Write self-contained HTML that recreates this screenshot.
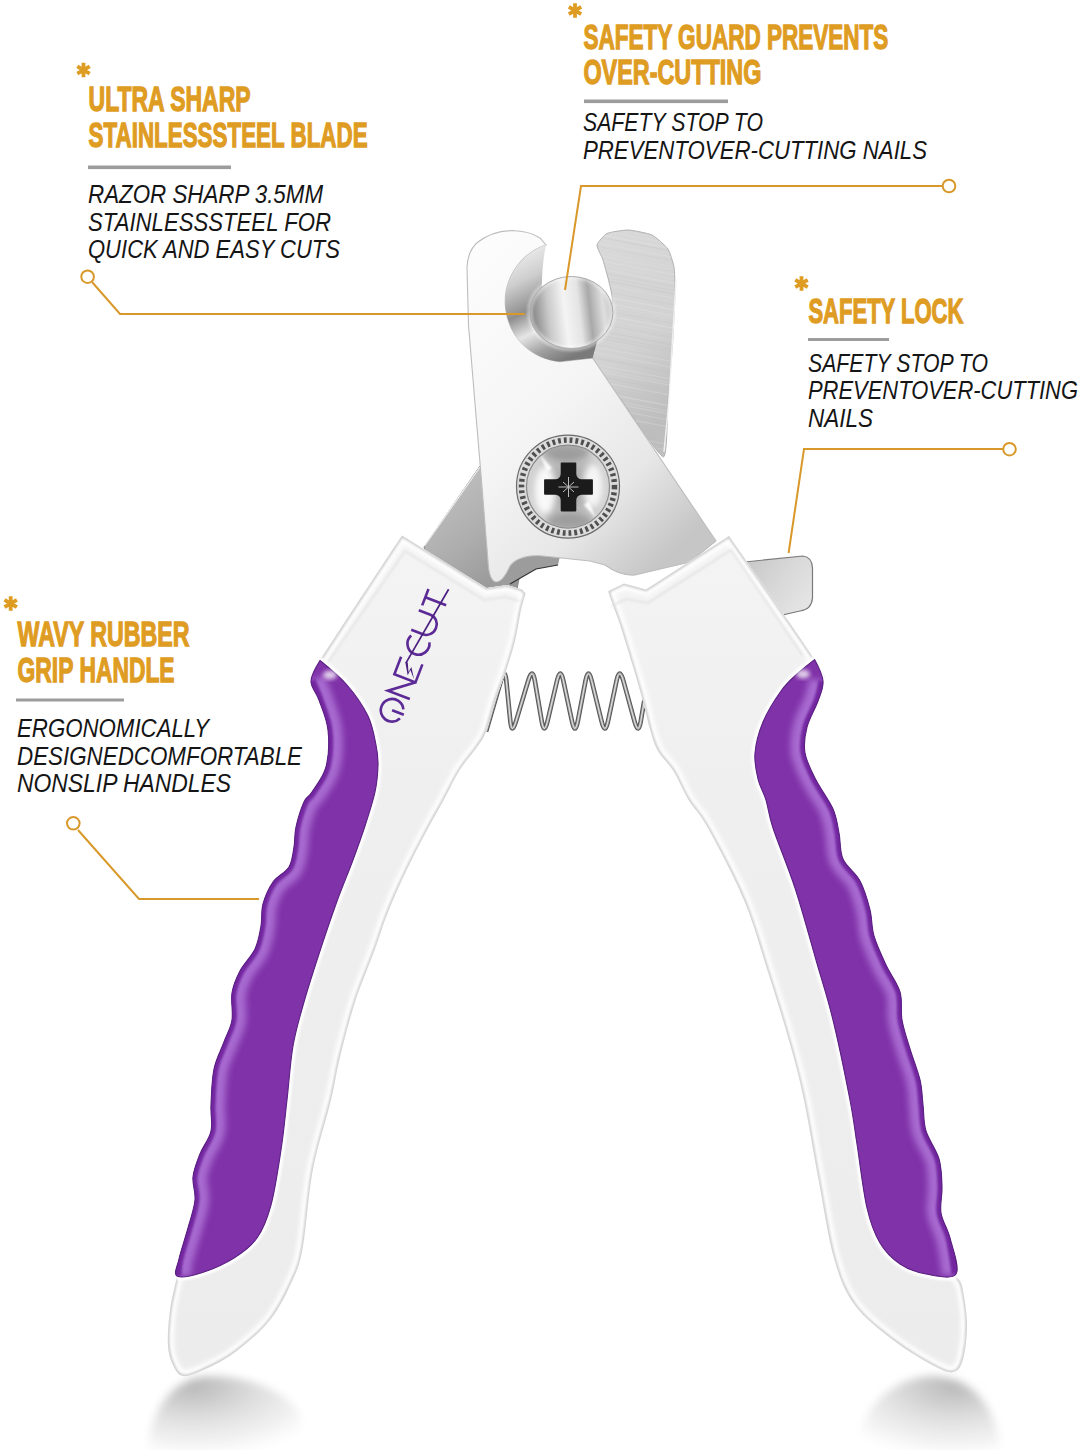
<!DOCTYPE html>
<html><head><meta charset="utf-8"><style>
html,body{margin:0;padding:0;background:#fff;width:1081px;height:1450px;overflow:hidden}
svg{display:block;font-family:"Liberation Sans",sans-serif}
</style></head><body>
<svg width="1081" height="1450" viewBox="0 0 1081 1450">
<defs>
<filter id="blur3" x="-50%" y="-50%" width="200%" height="200%"><feGaussianBlur stdDeviation="4"/></filter>
<filter id="b2" x="-20%" y="-20%" width="140%" height="140%"><feGaussianBlur stdDeviation="2.2"/></filter>
<filter id="b3p" x="-20%" y="-20%" width="140%" height="140%"><feGaussianBlur stdDeviation="3"/></filter>
<filter id="b1" x="-20%" y="-20%" width="140%" height="140%"><feGaussianBlur stdDeviation="1"/></filter>
<filter id="b4" x="-20%" y="-20%" width="140%" height="140%"><feGaussianBlur stdDeviation="3"/></filter>
<radialGradient id="shadL" cx="0.3" cy="0.12" r="0.95"><stop offset="0" stop-color="#b9b9b9"/><stop offset="0.45" stop-color="#dedede"/><stop offset="1" stop-color="#ffffff"/></radialGradient>
<radialGradient id="shadR" cx="0.68" cy="0.12" r="0.95"><stop offset="0" stop-color="#b9b9b9"/><stop offset="0.45" stop-color="#dedede"/><stop offset="1" stop-color="#ffffff"/></radialGradient>
<linearGradient id="shad" x1="0" y1="0" x2="0" y2="1"><stop offset="0" stop-color="#c4c4c4"/><stop offset="0.55" stop-color="#e6e6e6"/><stop offset="1" stop-color="#fbfbfb"/></linearGradient>
<linearGradient id="steelR" x1="0" y1="0" x2="0.3" y2="1"><stop offset="0" stop-color="#dadada"/><stop offset="0.6" stop-color="#d2d2d2"/><stop offset="1" stop-color="#bdbdbd"/></linearGradient>
<linearGradient id="steelL" x1="0" y1="0" x2="0.6" y2="1"><stop offset="0" stop-color="#c6c6c6"/><stop offset="0.6" stop-color="#adadad"/><stop offset="1" stop-color="#959595"/></linearGradient>
<linearGradient id="front" x1="0" y1="0" x2="0.7" y2="1"><stop offset="0" stop-color="#fdfdfd"/><stop offset="0.5" stop-color="#f5f5f5"/><stop offset="0.78" stop-color="#e7e7e7"/><stop offset="1" stop-color="#c6c6c6"/></linearGradient>
<linearGradient id="lens" x1="0" y1="0.1" x2="1" y2="0"><stop offset="0" stop-color="#8a8a8a"/><stop offset="0.18" stop-color="#c9c9c9"/><stop offset="0.38" stop-color="#f4f4f4"/><stop offset="0.55" stop-color="#e4e4e4"/><stop offset="0.68" stop-color="#a9a9a9"/><stop offset="0.84" stop-color="#dedede"/><stop offset="1" stop-color="#bcbcbc"/></linearGradient>
<linearGradient id="ccut" x1="0.2" y1="0" x2="0.6" y2="1"><stop offset="0" stop-color="#f0f0f0"/><stop offset="0.25" stop-color="#cfcfcf"/><stop offset="0.5" stop-color="#8e8e8e"/><stop offset="0.68" stop-color="#e6e6e6"/><stop offset="0.85" stop-color="#a0a0a0"/><stop offset="1" stop-color="#7a7a7a"/></linearGradient>
<radialGradient id="screw" cx="0.5" cy="0.5" r="0.55"><stop offset="0" stop-color="#9a9a9a"/><stop offset="0.6" stop-color="#bdbdbd"/><stop offset="0.9" stop-color="#d5d5d5"/><stop offset="1" stop-color="#a0a0a0"/></radialGradient>
<linearGradient id="tab" x1="0" y1="0" x2="1" y2="0.6"><stop offset="0" stop-color="#c2c2c2"/><stop offset="0.6" stop-color="#d8d8d8"/><stop offset="1" stop-color="#e4e4e4"/></linearGradient>
<linearGradient id="hl" x1="0" y1="0" x2="0" y2="1"><stop offset="0" stop-color="#f4f4f4"/><stop offset="0.3" stop-color="#efefef"/><stop offset="1" stop-color="#ececec"/></linearGradient>
<clipPath id="clipLP"><path d="M177.0,1276.0 C173.3,1273.7 177.2,1267.0 179.0,1259.0 C180.8,1251.0 185.3,1237.8 188.0,1228.0 C190.7,1218.2 194.2,1208.5 195.0,1200.0 C195.8,1191.5 192.2,1184.7 193.0,1177.0 C193.8,1169.3 197.0,1161.7 200.0,1154.0 C203.0,1146.3 209.2,1139.2 211.0,1131.0 C212.8,1122.8 210.5,1115.3 211.0,1105.0 C211.5,1094.7 211.8,1079.5 214.0,1069.0 C216.2,1058.5 221.0,1050.2 224.0,1042.0 C227.0,1033.8 230.7,1028.2 232.0,1020.0 C233.3,1011.8 230.7,1001.2 232.0,993.0 C233.3,984.8 236.2,978.3 240.0,971.0 C243.8,963.7 251.5,956.5 255.0,949.0 C258.5,941.5 259.7,933.5 261.0,926.0 C262.3,918.5 261.0,911.3 263.0,904.0 C265.0,896.7 268.7,888.2 273.0,882.0 C277.3,875.8 285.5,872.8 289.0,867.0 C292.5,861.2 292.8,853.7 294.0,847.0 C295.2,840.3 294.3,834.5 296.0,827.0 C297.7,819.5 301.3,807.8 304.0,802.0 C306.7,796.2 308.3,797.8 312.0,792.0 C315.7,786.2 323.3,777.3 326.0,767.0 C328.7,756.7 329.2,741.2 328.0,730.0 C326.8,718.8 321.8,708.2 319.0,700.0 C316.2,691.8 310.8,687.6 311.0,681.0 C311.2,674.4 320.0,660.5 320.0,660.5 C320.0,660.5 339.0,675.8 347.0,685.0 C355.0,694.2 363.2,706.0 368.0,716.0 C372.8,726.0 374.3,736.8 376.0,745.0 C377.7,753.2 378.2,757.2 378.0,765.0 C377.8,772.8 377.2,781.8 375.0,792.0 C372.8,802.2 368.7,814.7 365.0,826.0 C361.3,837.3 357.8,847.0 353.0,860.0 C348.2,873.0 341.8,887.8 336.0,904.0 C330.2,920.2 323.3,940.7 318.0,957.0 C312.7,973.3 308.2,987.2 304.0,1002.0 C299.8,1016.8 295.8,1029.7 293.0,1046.0 C290.2,1062.3 289.0,1082.7 287.0,1100.0 C285.0,1117.3 283.7,1132.5 281.0,1150.0 C278.3,1167.5 275.0,1190.3 271.0,1205.0 C267.0,1219.7 263.2,1229.2 257.0,1238.0 C250.8,1246.8 243.3,1252.2 234.0,1258.0 C224.7,1263.8 210.5,1270.0 201.0,1273.0 C191.5,1276.0 180.7,1278.3 177.0,1276.0Z"/></clipPath>
<clipPath id="clipRP"><path d="M814.6,659.6 C814.6,659.6 822.4,674.1 823.0,681.0 C823.6,687.9 820.7,693.3 818.0,701.0 C815.3,708.7 809.2,718.3 807.0,727.0 C804.8,735.7 803.5,744.2 805.0,753.0 C806.5,761.8 811.3,770.7 816.0,780.0 C820.7,789.3 829.2,800.2 833.0,809.0 C836.8,817.8 837.3,824.7 839.0,833.0 C840.7,841.3 839.5,851.0 843.0,859.0 C846.5,867.0 855.5,872.5 860.0,881.0 C864.5,889.5 867.7,900.8 870.0,910.0 C872.3,919.2 871.3,926.8 874.0,936.0 C876.7,945.2 881.7,955.7 886.0,965.0 C890.3,974.3 897.3,982.8 900.0,992.0 C902.7,1001.2 900.3,1010.5 902.0,1020.0 C903.7,1029.5 907.0,1039.0 910.0,1049.0 C913.0,1059.0 917.8,1070.7 920.0,1080.0 C922.2,1089.3 922.0,1096.5 923.0,1105.0 C924.0,1113.5 923.3,1122.0 926.0,1131.0 C928.7,1140.0 936.3,1149.7 939.0,1159.0 C941.7,1168.3 941.7,1178.0 942.0,1187.0 C942.3,1196.0 939.7,1204.5 941.0,1213.0 C942.3,1221.5 947.5,1227.8 950.0,1238.0 C952.5,1248.2 960.0,1268.0 956.0,1274.0 C952.0,1280.0 935.3,1275.7 926.0,1274.0 C916.7,1272.3 907.7,1269.2 900.0,1264.0 C892.3,1258.8 885.5,1252.3 880.0,1243.0 C874.5,1233.7 870.8,1224.5 867.0,1208.0 C863.2,1191.5 859.8,1162.0 857.0,1144.0 C854.2,1126.0 854.0,1120.7 850.0,1100.0 C846.0,1079.3 838.7,1043.3 833.0,1020.0 C827.3,996.7 822.3,982.0 816.0,960.0 C809.7,938.0 802.2,910.0 795.0,888.0 C787.8,866.0 777.8,842.7 773.0,828.0 C768.2,813.3 768.5,808.2 766.0,800.0 C763.5,791.8 759.8,786.8 758.0,779.0 C756.2,771.2 754.2,762.5 755.0,753.0 C755.8,743.5 758.7,732.3 763.0,722.0 C767.3,711.7 775.3,699.0 781.0,691.0 C786.7,683.0 791.4,679.2 797.0,674.0 C802.6,668.8 814.6,659.6 814.6,659.6Z"/></clipPath>
<clipPath id="clipLH"><path d="M402.0,535.5 L486.6,588.0 L507.0,585.0 L522.0,589.6 L525.6,593.5 C525.6,593.5 522.8,602.1 521.0,610.0 C519.2,617.9 517.5,630.8 515.0,641.0 C512.5,651.2 509.3,660.9 506.0,671.0 C502.7,681.1 498.3,691.3 495.0,701.4 C491.7,711.5 489.0,724.1 486.0,731.7 C483.0,739.3 481.3,740.7 477.0,747.0 C472.7,753.3 465.6,760.8 460.0,769.6 C454.4,778.4 449.4,789.6 443.7,800.0 C438.0,810.4 431.6,821.5 426.0,832.0 C420.4,842.5 415.0,852.8 410.0,863.0 C405.0,873.2 400.2,883.5 396.0,893.0 C391.8,902.5 388.5,910.7 385.0,920.0 C381.5,929.3 380.0,935.3 375.0,949.0 C370.0,962.7 360.8,984.0 355.0,1002.0 C349.2,1020.0 344.0,1040.7 340.0,1057.0 C336.0,1073.3 335.5,1081.3 331.0,1100.0 C326.5,1118.7 317.7,1144.7 313.0,1169.0 C308.3,1193.3 306.3,1227.7 303.0,1246.0 C299.7,1264.3 298.5,1266.7 293.0,1279.0 C287.5,1291.3 279.8,1307.7 270.0,1320.0 C260.2,1332.3 245.5,1344.5 234.0,1353.0 C222.5,1361.5 209.5,1367.2 201.0,1371.0 C192.5,1374.8 187.5,1376.7 183.0,1376.0 C178.5,1375.3 176.5,1372.0 174.0,1367.0 C171.5,1362.0 168.7,1355.5 168.0,1346.0 C167.3,1336.5 168.5,1321.7 170.0,1310.0 C171.5,1298.3 175.5,1284.5 177.0,1276.0 C178.5,1267.5 177.2,1267.0 179.0,1259.0 C180.8,1251.0 185.3,1237.8 188.0,1228.0 C190.7,1218.2 194.2,1208.5 195.0,1200.0 C195.8,1191.5 192.2,1184.7 193.0,1177.0 C193.8,1169.3 197.0,1161.7 200.0,1154.0 C203.0,1146.3 209.2,1139.2 211.0,1131.0 C212.8,1122.8 210.5,1115.3 211.0,1105.0 C211.5,1094.7 211.8,1079.5 214.0,1069.0 C216.2,1058.5 221.0,1050.2 224.0,1042.0 C227.0,1033.8 230.7,1028.2 232.0,1020.0 C233.3,1011.8 230.7,1001.2 232.0,993.0 C233.3,984.8 236.2,978.3 240.0,971.0 C243.8,963.7 251.5,956.5 255.0,949.0 C258.5,941.5 259.7,933.5 261.0,926.0 C262.3,918.5 261.0,911.3 263.0,904.0 C265.0,896.7 268.7,888.2 273.0,882.0 C277.3,875.8 285.5,872.8 289.0,867.0 C292.5,861.2 292.8,853.7 294.0,847.0 C295.2,840.3 294.3,834.5 296.0,827.0 C297.7,819.5 301.3,807.8 304.0,802.0 C306.7,796.2 308.3,797.8 312.0,792.0 C315.7,786.2 323.3,777.3 326.0,767.0 C328.7,756.7 329.2,741.2 328.0,730.0 C326.8,718.8 321.8,708.2 319.0,700.0 C316.2,691.8 310.8,687.6 311.0,681.0 C311.2,674.4 304.8,684.8 320.0,660.5 C335.2,636.2 402.0,535.5 402.0,535.5Z"/></clipPath>
<clipPath id="clipRH"><path d="M608.5,591.0 L624.0,583.5 L646.0,589.6 L729.0,536.0 C729.0,536.0 798.9,635.4 814.6,659.6 C830.3,683.8 822.4,674.1 823.0,681.0 C823.6,687.9 820.7,693.3 818.0,701.0 C815.3,708.7 809.2,718.3 807.0,727.0 C804.8,735.7 803.5,744.2 805.0,753.0 C806.5,761.8 811.3,770.7 816.0,780.0 C820.7,789.3 829.2,800.2 833.0,809.0 C836.8,817.8 837.3,824.7 839.0,833.0 C840.7,841.3 839.5,851.0 843.0,859.0 C846.5,867.0 855.5,872.5 860.0,881.0 C864.5,889.5 867.7,900.8 870.0,910.0 C872.3,919.2 871.3,926.8 874.0,936.0 C876.7,945.2 881.7,955.7 886.0,965.0 C890.3,974.3 897.3,982.8 900.0,992.0 C902.7,1001.2 900.3,1010.5 902.0,1020.0 C903.7,1029.5 907.0,1039.0 910.0,1049.0 C913.0,1059.0 917.8,1070.7 920.0,1080.0 C922.2,1089.3 922.0,1096.5 923.0,1105.0 C924.0,1113.5 923.3,1122.0 926.0,1131.0 C928.7,1140.0 936.3,1149.7 939.0,1159.0 C941.7,1168.3 941.7,1178.0 942.0,1187.0 C942.3,1196.0 939.7,1204.5 941.0,1213.0 C942.3,1221.5 947.5,1227.8 950.0,1238.0 C952.5,1248.2 954.0,1266.0 956.0,1274.0 C958.0,1282.0 960.2,1278.0 962.0,1286.0 C963.8,1294.0 966.7,1310.5 967.0,1322.0 C967.3,1333.5 965.8,1346.8 964.0,1355.0 C962.2,1363.2 960.3,1368.8 956.0,1371.0 C951.7,1373.2 948.5,1373.2 938.0,1368.0 C927.5,1362.8 907.0,1350.7 893.0,1340.0 C879.0,1329.3 863.8,1317.7 854.0,1304.0 C844.2,1290.3 839.8,1278.3 834.0,1258.0 C828.2,1237.7 824.0,1208.3 819.0,1182.0 C814.0,1155.7 808.8,1123.0 804.0,1100.0 C799.2,1077.0 796.0,1065.3 790.0,1044.0 C784.0,1022.7 775.7,996.0 768.0,972.0 C760.3,948.0 754.0,924.0 744.0,900.0 C734.0,876.0 717.2,844.7 708.0,828.0 C698.8,811.3 694.4,809.5 688.6,800.0 C682.8,790.5 678.5,779.1 673.4,771.0 C668.3,762.9 662.1,757.9 658.3,751.4 C654.5,744.9 653.2,740.0 650.7,731.7 C648.2,723.4 646.0,712.5 643.0,701.4 C640.0,690.3 636.3,677.6 632.5,665.0 C628.7,652.4 624.0,636.8 620.3,625.5 C616.5,614.2 612.0,602.8 610.0,597.0 C608.0,591.2 608.5,591.0 608.5,591.0Z"/></clipPath>
</defs>
<path d="M148,1452 C150,1410 172,1377 210,1376 C250,1376 288,1392 300,1415 L300,1452Z" fill="url(#shadL)" filter="url(#blur3)"/>
<path d="M856,1452 C860,1408 893,1376 933,1376 C972,1377 996,1405 1001,1452Z" fill="url(#shadR)" filter="url(#blur3)"/>
<path d="M597.0,245.0 C597.3,242.8 604.4,234.8 607.0,233.5 C609.6,232.2 624.2,229.9 628.0,230.0 C631.8,230.1 648.7,233.4 652.0,235.0 C655.3,236.6 666.2,246.3 668.0,249.0 C669.8,251.7 673.4,263.4 674.0,267.0 C674.6,270.6 675.1,285.4 675.0,292.0 C674.9,298.6 673.0,337.1 672.4,346.0 C671.8,354.9 668.8,389.8 668.0,399.0 C667.2,408.2 667.4,457.1 663.4,457.0 C659.4,456.9 625.9,406.2 620.0,398.0 C614.1,389.8 593.3,365.8 592.6,358.0 C591.9,350.2 610.6,310.3 612.0,304.0 C613.4,297.7 609.8,285.7 609.0,282.0 C608.2,278.3 604.0,263.1 603.0,260.0 C602.0,256.9 596.7,247.2 597.0,245.0Z" fill="url(#steelR)" stroke="#b0b0b0" stroke-width="1"/>
<clipPath id="clipBB"><path d="M597.0,245.0 C597.3,242.8 604.4,234.8 607.0,233.5 C609.6,232.2 624.2,229.9 628.0,230.0 C631.8,230.1 648.7,233.4 652.0,235.0 C655.3,236.6 666.2,246.3 668.0,249.0 C669.8,251.7 673.4,263.4 674.0,267.0 C674.6,270.6 675.1,285.4 675.0,292.0 C674.9,298.6 673.0,337.1 672.4,346.0 C671.8,354.9 668.8,389.8 668.0,399.0 C667.2,408.2 667.4,457.1 663.4,457.0 C659.4,456.9 625.9,406.2 620.0,398.0 C614.1,389.8 593.3,365.8 592.6,358.0 C591.9,350.2 610.6,310.3 612.0,304.0 C613.4,297.7 609.8,285.7 609.0,282.0 C608.2,278.3 604.0,263.1 603.0,260.0 C602.0,256.9 596.7,247.2 597.0,245.0Z"/></clipPath><g clip-path="url(#clipBB)"><path d="M585,214.3 L690,234.3" stroke="#c0c0c0" stroke-width="1.0" opacity="0.3"/><path d="M585,217.4 L690,237.4" stroke="#e8e8e8" stroke-width="1.0" opacity="0.3"/><path d="M585,221.6 L690,241.6" stroke="#c0c0c0" stroke-width="0.7" opacity="0.3"/><path d="M585,227.3 L690,247.3" stroke="#e8e8e8" stroke-width="0.9" opacity="0.3"/><path d="M585,232.0 L690,252.0" stroke="#e8e8e8" stroke-width="1.3" opacity="0.3"/><path d="M585,234.5 L690,254.5" stroke="#c0c0c0" stroke-width="1.1" opacity="0.3"/><path d="M585,240.5 L690,260.5" stroke="#e8e8e8" stroke-width="1.1" opacity="0.3"/><path d="M585,244.0 L690,264.0" stroke="#c0c0c0" stroke-width="0.7" opacity="0.3"/><path d="M585,250.0 L690,270.0" stroke="#e2e2e2" stroke-width="1.0" opacity="0.3"/><path d="M585,253.0 L690,273.0" stroke="#e2e2e2" stroke-width="1.1" opacity="0.3"/><path d="M585,257.7 L690,277.7" stroke="#e8e8e8" stroke-width="1.1" opacity="0.3"/><path d="M585,261.8 L690,281.8" stroke="#e2e2e2" stroke-width="0.8" opacity="0.3"/><path d="M585,266.2 L690,286.2" stroke="#e8e8e8" stroke-width="1.1" opacity="0.3"/><path d="M585,269.6 L690,289.6" stroke="#c6c6c6" stroke-width="1.2" opacity="0.3"/><path d="M585,273.7 L690,293.7" stroke="#c6c6c6" stroke-width="1.0" opacity="0.3"/><path d="M585,277.0 L690,297.0" stroke="#c0c0c0" stroke-width="1.2" opacity="0.3"/><path d="M585,281.2 L690,301.2" stroke="#e2e2e2" stroke-width="1.1" opacity="0.3"/><path d="M585,287.9 L690,307.9" stroke="#c6c6c6" stroke-width="0.9" opacity="0.3"/><path d="M585,292.5 L690,312.5" stroke="#e8e8e8" stroke-width="1.1" opacity="0.3"/><path d="M585,293.5 L690,313.5" stroke="#e2e2e2" stroke-width="0.8" opacity="0.3"/><path d="M585,299.0 L690,319.0" stroke="#e8e8e8" stroke-width="1.4" opacity="0.3"/><path d="M585,301.5 L690,321.5" stroke="#e2e2e2" stroke-width="0.9" opacity="0.3"/><path d="M585,306.8 L690,326.8" stroke="#c6c6c6" stroke-width="1.1" opacity="0.3"/><path d="M585,311.4 L690,331.4" stroke="#e8e8e8" stroke-width="1.4" opacity="0.3"/><path d="M585,315.7 L690,335.7" stroke="#e8e8e8" stroke-width="0.7" opacity="0.3"/><path d="M585,320.8 L690,340.8" stroke="#c6c6c6" stroke-width="0.9" opacity="0.3"/><path d="M585,323.7 L690,343.7" stroke="#e2e2e2" stroke-width="0.7" opacity="0.3"/><path d="M585,328.2 L690,348.2" stroke="#c0c0c0" stroke-width="1.1" opacity="0.3"/><path d="M585,332.6 L690,352.6" stroke="#c0c0c0" stroke-width="1.2" opacity="0.3"/><path d="M585,335.3 L690,355.3" stroke="#c0c0c0" stroke-width="1.0" opacity="0.3"/><path d="M585,342.7 L690,362.7" stroke="#c6c6c6" stroke-width="0.8" opacity="0.3"/><path d="M585,345.0 L690,365.0" stroke="#e2e2e2" stroke-width="1.3" opacity="0.3"/><path d="M585,350.7 L690,370.7" stroke="#e2e2e2" stroke-width="1.2" opacity="0.3"/><path d="M585,355.5 L690,375.5" stroke="#c6c6c6" stroke-width="1.4" opacity="0.3"/><path d="M585,356.4 L690,376.4" stroke="#c0c0c0" stroke-width="0.8" opacity="0.3"/><path d="M585,362.6 L690,382.6" stroke="#e8e8e8" stroke-width="1.0" opacity="0.3"/><path d="M585,366.6 L690,386.6" stroke="#e2e2e2" stroke-width="0.9" opacity="0.3"/><path d="M585,369.0 L690,389.0" stroke="#e2e2e2" stroke-width="1.1" opacity="0.3"/><path d="M585,373.9 L690,393.9" stroke="#c0c0c0" stroke-width="1.2" opacity="0.3"/><path d="M585,378.9 L690,398.9" stroke="#e8e8e8" stroke-width="1.0" opacity="0.3"/><path d="M585,384.5 L690,404.5" stroke="#c6c6c6" stroke-width="1.0" opacity="0.3"/><path d="M585,386.8 L690,406.8" stroke="#c6c6c6" stroke-width="1.1" opacity="0.3"/><path d="M585,389.6 L690,409.6" stroke="#e8e8e8" stroke-width="1.4" opacity="0.3"/><path d="M585,395.4 L690,415.4" stroke="#e8e8e8" stroke-width="0.9" opacity="0.3"/><path d="M585,398.0 L690,418.0" stroke="#e8e8e8" stroke-width="1.1" opacity="0.3"/><path d="M585,404.1 L690,424.1" stroke="#e2e2e2" stroke-width="1.1" opacity="0.3"/><path d="M585,406.5 L690,426.5" stroke="#c0c0c0" stroke-width="1.1" opacity="0.3"/><path d="M585,411.0 L690,431.0" stroke="#e2e2e2" stroke-width="1.4" opacity="0.3"/><path d="M585,417.0 L690,437.0" stroke="#c6c6c6" stroke-width="0.8" opacity="0.3"/><path d="M585,422.2 L690,442.2" stroke="#c6c6c6" stroke-width="1.0" opacity="0.3"/><path d="M585,424.2 L690,444.2" stroke="#c0c0c0" stroke-width="0.8" opacity="0.3"/><path d="M585,428.6 L690,448.6" stroke="#e2e2e2" stroke-width="1.0" opacity="0.3"/><path d="M585,434.2 L690,454.2" stroke="#e8e8e8" stroke-width="0.8" opacity="0.3"/><path d="M585,439.4 L690,459.4" stroke="#e2e2e2" stroke-width="0.8" opacity="0.3"/><path d="M585,442.0 L690,462.0" stroke="#e8e8e8" stroke-width="1.2" opacity="0.3"/><path d="M585,445.2 L690,465.2" stroke="#e8e8e8" stroke-width="1.2" opacity="0.3"/><path d="M585,449.2 L690,469.2" stroke="#e2e2e2" stroke-width="1.3" opacity="0.3"/><path d="M585,453.8 L690,473.8" stroke="#c0c0c0" stroke-width="1.1" opacity="0.3"/><path d="M585,459.7 L690,479.7" stroke="#e2e2e2" stroke-width="1.1" opacity="0.3"/><path d="M585,463.3 L690,483.3" stroke="#c0c0c0" stroke-width="1.3" opacity="0.3"/></g>
<path d="M676,280 L669,400 L664,452" fill="none" stroke="#f4f4f4" stroke-width="1.5" opacity="0.9"/>
<path d="M424,547 L480,466 L530,520 L515,600 L440,600Z" fill="url(#steelL)" stroke="#8a8a8a" stroke-width="1"/>
<path d="M424.5,546 L480,467" stroke="#f0f0f0" stroke-width="1.2"/>
<path d="M488,590 L510,584 L536,569 L558,565 L560,556 L513,556 L498,572Z" fill="#9c9c9c"/><path d="M510,584 L536,569 L558,565" fill="none" stroke="#333" stroke-width="1.2"/>
<path d="M488,561 L481.6,482 L475,403.5 L468.5,325 L467,267 Q468,250 478,242 Q492,231 512,230.5 Q530,231 540,238 L546,245 A60,60 0 0,0 560,361.6 L592.6,358 L716,541 L690,562 L635,575 Q620,576 605,565 L590,561 L538,555.5 Q517,556 510,566 Q503,582 496,582 Q489,581 488,561Z" fill="url(#front)" stroke="#bdbdbd" stroke-width="1.1"/>
<path d="M546,245 A60,60 0 0,0 560,361.6 L592.6,358 L600,330 L542,300 Q541,268 546,245 Z" fill="url(#ccut)"/>
<ellipse cx="571.4" cy="312.5" rx="41.5" ry="36" fill="url(#lens)" stroke="#7d7d7d" stroke-width="1"/>
<ellipse cx="571.4" cy="312.5" rx="41.5" ry="36" fill="none" stroke="#ffffff" stroke-width="6" opacity="0.35" filter="url(#b1)"/>
<circle cx="568" cy="486.6" r="51.5" fill="#dcdcdc" stroke="#6a6a6a" stroke-width="1.2"/>
<circle cx="568" cy="486.6" r="46.5" fill="none" stroke="#4f4f4f" stroke-width="5.5" stroke-dasharray="2.8 3.0"/>
<circle cx="568" cy="486.6" r="41.5" fill="url(#screw)" stroke="#8a8a8a" stroke-width="1.2"/>
<path d="M553,474 L548,470 Q544,470 548,462 L552,458" fill="none" stroke="#fff" stroke-width="0" />
<clipPath id="domeclip"><circle cx="568" cy="486.6" r="41"/></clipPath>
<g clip-path="url(#domeclip)"><ellipse cx="545" cy="490" rx="11" ry="24" fill="#ffffff" opacity="0.9" filter="url(#b4)"/><ellipse cx="593" cy="486" rx="10" ry="22" fill="#ffffff" opacity="0.85" filter="url(#b4)"/><ellipse cx="566" cy="452" rx="24" ry="9" fill="#7a7a7a" opacity="0.55" filter="url(#b4)"/><ellipse cx="570" cy="522" rx="24" ry="9" fill="#7a7a7a" opacity="0.55" filter="url(#b4)"/><path d="M540,455 L552,468 L547,472Z M596,518 L584,505 L589,501Z" fill="#ffffff" opacity="0.9" filter="url(#b1)"/></g>
<path d="M561.5,463.4 L575.5,463.4 L575.5,474.0 A6.0,6.0 0 0,0 581.5,480.0 L592.1,480.0 L592.1,494.0 L581.5,494.0 A6.0,6.0 0 0,0 575.5,500.0 L575.5,510.6 L561.5,510.6 L561.5,500.0 A6.0,6.0 0 0,0 555.5,494.0 L544.9,494.0 L544.9,480.0 L555.5,480.0 A6.0,6.0 0 0,0 561.5,474.0 Z" fill="#1b1b1b" stroke="#1b1b1b" stroke-width="1.6" stroke-linejoin="round"/>
<path d="M563,482 L574,492 M574,482 L563,492 M568.5,477 v20 M558.5,487 h20" stroke="#bdbdbd" stroke-width="1"/>
<path d="M486.0,731.6 L501.2,679.8 Q505.0,666.8 506.3,680.5 L510.4,721.7 Q511.7,735.4 515.9,721.7 L528.3,680.5 Q532.5,666.8 534.8,680.5 L541.8,721.7 Q544.1,735.4 547.4,721.7 L557.1,680.5 Q560.4,666.8 563.3,680.5 L572.1,721.7 Q575.0,735.4 577.7,721.7 L585.6,680.5 Q588.3,666.8 591.6,680.5 L601.7,721.7 Q605.0,735.4 607.9,721.7 L616.6,680.5 Q619.5,666.8 623.3,680.5 L634.6,721.7 Q638.4,735.4 640.7,721.7 L650.0,666.8" fill="none" stroke="#555" stroke-width="4.6" stroke-linejoin="round"/>
<path d="M486.0,731.6 L501.2,679.8 Q505.0,666.8 506.3,680.5 L510.4,721.7 Q511.7,735.4 515.9,721.7 L528.3,680.5 Q532.5,666.8 534.8,680.5 L541.8,721.7 Q544.1,735.4 547.4,721.7 L557.1,680.5 Q560.4,666.8 563.3,680.5 L572.1,721.7 Q575.0,735.4 577.7,721.7 L585.6,680.5 Q588.3,666.8 591.6,680.5 L601.7,721.7 Q605.0,735.4 607.9,721.7 L616.6,680.5 Q619.5,666.8 623.3,680.5 L634.6,721.7 Q638.4,735.4 640.7,721.7 L650.0,666.8" fill="none" stroke="#9d9d9d" stroke-width="2.6" stroke-linejoin="round"/>
<path d="M486.0,731.6 L501.2,679.8 Q505.0,666.8 506.3,680.5 L510.4,721.7 Q511.7,735.4 515.9,721.7 L528.3,680.5 Q532.5,666.8 534.8,680.5 L541.8,721.7 Q544.1,735.4 547.4,721.7 L557.1,680.5 Q560.4,666.8 563.3,680.5 L572.1,721.7 Q575.0,735.4 577.7,721.7 L585.6,680.5 Q588.3,666.8 591.6,680.5 L601.7,721.7 Q605.0,735.4 607.9,721.7 L616.6,680.5 Q619.5,666.8 623.3,680.5 L634.6,721.7 Q638.4,735.4 640.7,721.7 L650.0,666.8" fill="none" stroke="#eeeeee" stroke-width="0.9" stroke-linejoin="round"/>
<path d="M735,563 L803,556 Q812,557 812.5,568 L812.5,598 Q811.5,609.5 800,611 L760,620Z" fill="url(#tab)" stroke="#7a7a7a" stroke-width="1.2"/>
<path d="M402.0,535.5 L486.6,588.0 L507.0,585.0 L522.0,589.6 L525.6,593.5 C525.6,593.5 522.8,602.1 521.0,610.0 C519.2,617.9 517.5,630.8 515.0,641.0 C512.5,651.2 509.3,660.9 506.0,671.0 C502.7,681.1 498.3,691.3 495.0,701.4 C491.7,711.5 489.0,724.1 486.0,731.7 C483.0,739.3 481.3,740.7 477.0,747.0 C472.7,753.3 465.6,760.8 460.0,769.6 C454.4,778.4 449.4,789.6 443.7,800.0 C438.0,810.4 431.6,821.5 426.0,832.0 C420.4,842.5 415.0,852.8 410.0,863.0 C405.0,873.2 400.2,883.5 396.0,893.0 C391.8,902.5 388.5,910.7 385.0,920.0 C381.5,929.3 380.0,935.3 375.0,949.0 C370.0,962.7 360.8,984.0 355.0,1002.0 C349.2,1020.0 344.0,1040.7 340.0,1057.0 C336.0,1073.3 335.5,1081.3 331.0,1100.0 C326.5,1118.7 317.7,1144.7 313.0,1169.0 C308.3,1193.3 306.3,1227.7 303.0,1246.0 C299.7,1264.3 298.5,1266.7 293.0,1279.0 C287.5,1291.3 279.8,1307.7 270.0,1320.0 C260.2,1332.3 245.5,1344.5 234.0,1353.0 C222.5,1361.5 209.5,1367.2 201.0,1371.0 C192.5,1374.8 187.5,1376.7 183.0,1376.0 C178.5,1375.3 176.5,1372.0 174.0,1367.0 C171.5,1362.0 168.7,1355.5 168.0,1346.0 C167.3,1336.5 168.5,1321.7 170.0,1310.0 C171.5,1298.3 175.5,1284.5 177.0,1276.0 C178.5,1267.5 177.2,1267.0 179.0,1259.0 C180.8,1251.0 185.3,1237.8 188.0,1228.0 C190.7,1218.2 194.2,1208.5 195.0,1200.0 C195.8,1191.5 192.2,1184.7 193.0,1177.0 C193.8,1169.3 197.0,1161.7 200.0,1154.0 C203.0,1146.3 209.2,1139.2 211.0,1131.0 C212.8,1122.8 210.5,1115.3 211.0,1105.0 C211.5,1094.7 211.8,1079.5 214.0,1069.0 C216.2,1058.5 221.0,1050.2 224.0,1042.0 C227.0,1033.8 230.7,1028.2 232.0,1020.0 C233.3,1011.8 230.7,1001.2 232.0,993.0 C233.3,984.8 236.2,978.3 240.0,971.0 C243.8,963.7 251.5,956.5 255.0,949.0 C258.5,941.5 259.7,933.5 261.0,926.0 C262.3,918.5 261.0,911.3 263.0,904.0 C265.0,896.7 268.7,888.2 273.0,882.0 C277.3,875.8 285.5,872.8 289.0,867.0 C292.5,861.2 292.8,853.7 294.0,847.0 C295.2,840.3 294.3,834.5 296.0,827.0 C297.7,819.5 301.3,807.8 304.0,802.0 C306.7,796.2 308.3,797.8 312.0,792.0 C315.7,786.2 323.3,777.3 326.0,767.0 C328.7,756.7 329.2,741.2 328.0,730.0 C326.8,718.8 321.8,708.2 319.0,700.0 C316.2,691.8 310.8,687.6 311.0,681.0 C311.2,674.4 304.8,684.8 320.0,660.5 C335.2,636.2 402.0,535.5 402.0,535.5Z" fill="url(#hl)"/>
<g clip-path="url(#clipLH)"><path d="M402.0,535.5 L486.6,588.0 L507.0,585.0 L522.0,589.6 L525.6,593.5 C525.6,593.5 522.8,602.1 521.0,610.0 C519.2,617.9 517.5,630.8 515.0,641.0 C512.5,651.2 509.3,660.9 506.0,671.0 C502.7,681.1 498.3,691.3 495.0,701.4 C491.7,711.5 489.0,724.1 486.0,731.7 C483.0,739.3 481.3,740.7 477.0,747.0 C472.7,753.3 465.6,760.8 460.0,769.6 C454.4,778.4 449.4,789.6 443.7,800.0 C438.0,810.4 431.6,821.5 426.0,832.0 C420.4,842.5 415.0,852.8 410.0,863.0 C405.0,873.2 400.2,883.5 396.0,893.0 C391.8,902.5 388.5,910.7 385.0,920.0 C381.5,929.3 380.0,935.3 375.0,949.0 C370.0,962.7 360.8,984.0 355.0,1002.0 C349.2,1020.0 344.0,1040.7 340.0,1057.0 C336.0,1073.3 335.5,1081.3 331.0,1100.0 C326.5,1118.7 317.7,1144.7 313.0,1169.0 C308.3,1193.3 306.3,1227.7 303.0,1246.0 C299.7,1264.3 298.5,1266.7 293.0,1279.0 C287.5,1291.3 279.8,1307.7 270.0,1320.0 C260.2,1332.3 245.5,1344.5 234.0,1353.0 C222.5,1361.5 209.5,1367.2 201.0,1371.0 C192.5,1374.8 187.5,1376.7 183.0,1376.0 C178.5,1375.3 176.5,1372.0 174.0,1367.0 C171.5,1362.0 168.7,1355.5 168.0,1346.0 C167.3,1336.5 168.5,1321.7 170.0,1310.0 C171.5,1298.3 175.5,1284.5 177.0,1276.0 C178.5,1267.5 177.2,1267.0 179.0,1259.0 C180.8,1251.0 185.3,1237.8 188.0,1228.0 C190.7,1218.2 194.2,1208.5 195.0,1200.0 C195.8,1191.5 192.2,1184.7 193.0,1177.0 C193.8,1169.3 197.0,1161.7 200.0,1154.0 C203.0,1146.3 209.2,1139.2 211.0,1131.0 C212.8,1122.8 210.5,1115.3 211.0,1105.0 C211.5,1094.7 211.8,1079.5 214.0,1069.0 C216.2,1058.5 221.0,1050.2 224.0,1042.0 C227.0,1033.8 230.7,1028.2 232.0,1020.0 C233.3,1011.8 230.7,1001.2 232.0,993.0 C233.3,984.8 236.2,978.3 240.0,971.0 C243.8,963.7 251.5,956.5 255.0,949.0 C258.5,941.5 259.7,933.5 261.0,926.0 C262.3,918.5 261.0,911.3 263.0,904.0 C265.0,896.7 268.7,888.2 273.0,882.0 C277.3,875.8 285.5,872.8 289.0,867.0 C292.5,861.2 292.8,853.7 294.0,847.0 C295.2,840.3 294.3,834.5 296.0,827.0 C297.7,819.5 301.3,807.8 304.0,802.0 C306.7,796.2 308.3,797.8 312.0,792.0 C315.7,786.2 323.3,777.3 326.0,767.0 C328.7,756.7 329.2,741.2 328.0,730.0 C326.8,718.8 321.8,708.2 319.0,700.0 C316.2,691.8 310.8,687.6 311.0,681.0 C311.2,674.4 304.8,684.8 320.0,660.5 C335.2,636.2 402.0,535.5 402.0,535.5Z" fill="none" stroke="#ffffff" stroke-width="12" filter="url(#b2)"/>
<path d="M402.0,535.5 L486.6,588.0 L507.0,585.0 L522.0,589.6 L525.6,593.5 C525.6,593.5 522.8,602.1 521.0,610.0 C519.2,617.9 517.5,630.8 515.0,641.0 C512.5,651.2 509.3,660.9 506.0,671.0 C502.7,681.1 498.3,691.3 495.0,701.4 C491.7,711.5 489.0,724.1 486.0,731.7 C483.0,739.3 481.3,740.7 477.0,747.0 C472.7,753.3 465.6,760.8 460.0,769.6 C454.4,778.4 449.4,789.6 443.7,800.0 C438.0,810.4 431.6,821.5 426.0,832.0 C420.4,842.5 415.0,852.8 410.0,863.0 C405.0,873.2 400.2,883.5 396.0,893.0 C391.8,902.5 388.5,910.7 385.0,920.0 C381.5,929.3 380.0,935.3 375.0,949.0 C370.0,962.7 360.8,984.0 355.0,1002.0 C349.2,1020.0 344.0,1040.7 340.0,1057.0 C336.0,1073.3 335.5,1081.3 331.0,1100.0 C326.5,1118.7 317.7,1144.7 313.0,1169.0 C308.3,1193.3 306.3,1227.7 303.0,1246.0 C299.7,1264.3 298.5,1266.7 293.0,1279.0 C287.5,1291.3 279.8,1307.7 270.0,1320.0 C260.2,1332.3 245.5,1344.5 234.0,1353.0 C222.5,1361.5 209.5,1367.2 201.0,1371.0 C192.5,1374.8 187.5,1376.7 183.0,1376.0 C178.5,1375.3 176.5,1372.0 174.0,1367.0 C171.5,1362.0 168.7,1355.5 168.0,1346.0 C167.3,1336.5 168.5,1321.7 170.0,1310.0 C171.5,1298.3 175.5,1284.5 177.0,1276.0 C178.5,1267.5 177.2,1267.0 179.0,1259.0 C180.8,1251.0 185.3,1237.8 188.0,1228.0 C190.7,1218.2 194.2,1208.5 195.0,1200.0 C195.8,1191.5 192.2,1184.7 193.0,1177.0 C193.8,1169.3 197.0,1161.7 200.0,1154.0 C203.0,1146.3 209.2,1139.2 211.0,1131.0 C212.8,1122.8 210.5,1115.3 211.0,1105.0 C211.5,1094.7 211.8,1079.5 214.0,1069.0 C216.2,1058.5 221.0,1050.2 224.0,1042.0 C227.0,1033.8 230.7,1028.2 232.0,1020.0 C233.3,1011.8 230.7,1001.2 232.0,993.0 C233.3,984.8 236.2,978.3 240.0,971.0 C243.8,963.7 251.5,956.5 255.0,949.0 C258.5,941.5 259.7,933.5 261.0,926.0 C262.3,918.5 261.0,911.3 263.0,904.0 C265.0,896.7 268.7,888.2 273.0,882.0 C277.3,875.8 285.5,872.8 289.0,867.0 C292.5,861.2 292.8,853.7 294.0,847.0 C295.2,840.3 294.3,834.5 296.0,827.0 C297.7,819.5 301.3,807.8 304.0,802.0 C306.7,796.2 308.3,797.8 312.0,792.0 C315.7,786.2 323.3,777.3 326.0,767.0 C328.7,756.7 329.2,741.2 328.0,730.0 C326.8,718.8 321.8,708.2 319.0,700.0 C316.2,691.8 310.8,687.6 311.0,681.0 C311.2,674.4 304.8,684.8 320.0,660.5 C335.2,636.2 402.0,535.5 402.0,535.5Z" fill="none" stroke="#cdcdcd" stroke-width="3.5" filter="url(#b1)"/></g>
<g clip-path="url(#clipLH)"><path d="M177.0,1276.0 C173.3,1273.7 177.2,1267.0 179.0,1259.0 C180.8,1251.0 185.3,1237.8 188.0,1228.0 C190.7,1218.2 194.2,1208.5 195.0,1200.0 C195.8,1191.5 192.2,1184.7 193.0,1177.0 C193.8,1169.3 197.0,1161.7 200.0,1154.0 C203.0,1146.3 209.2,1139.2 211.0,1131.0 C212.8,1122.8 210.5,1115.3 211.0,1105.0 C211.5,1094.7 211.8,1079.5 214.0,1069.0 C216.2,1058.5 221.0,1050.2 224.0,1042.0 C227.0,1033.8 230.7,1028.2 232.0,1020.0 C233.3,1011.8 230.7,1001.2 232.0,993.0 C233.3,984.8 236.2,978.3 240.0,971.0 C243.8,963.7 251.5,956.5 255.0,949.0 C258.5,941.5 259.7,933.5 261.0,926.0 C262.3,918.5 261.0,911.3 263.0,904.0 C265.0,896.7 268.7,888.2 273.0,882.0 C277.3,875.8 285.5,872.8 289.0,867.0 C292.5,861.2 292.8,853.7 294.0,847.0 C295.2,840.3 294.3,834.5 296.0,827.0 C297.7,819.5 301.3,807.8 304.0,802.0 C306.7,796.2 308.3,797.8 312.0,792.0 C315.7,786.2 323.3,777.3 326.0,767.0 C328.7,756.7 329.2,741.2 328.0,730.0 C326.8,718.8 321.8,708.2 319.0,700.0 C316.2,691.8 310.8,687.6 311.0,681.0 C311.2,674.4 320.0,660.5 320.0,660.5 C320.0,660.5 339.0,675.8 347.0,685.0 C355.0,694.2 363.2,706.0 368.0,716.0 C372.8,726.0 374.3,736.8 376.0,745.0 C377.7,753.2 378.2,757.2 378.0,765.0 C377.8,772.8 377.2,781.8 375.0,792.0 C372.8,802.2 368.7,814.7 365.0,826.0 C361.3,837.3 357.8,847.0 353.0,860.0 C348.2,873.0 341.8,887.8 336.0,904.0 C330.2,920.2 323.3,940.7 318.0,957.0 C312.7,973.3 308.2,987.2 304.0,1002.0 C299.8,1016.8 295.8,1029.7 293.0,1046.0 C290.2,1062.3 289.0,1082.7 287.0,1100.0 C285.0,1117.3 283.7,1132.5 281.0,1150.0 C278.3,1167.5 275.0,1190.3 271.0,1205.0 C267.0,1219.7 263.2,1229.2 257.0,1238.0 C250.8,1246.8 243.3,1252.2 234.0,1258.0 C224.7,1263.8 210.5,1270.0 201.0,1273.0 C191.5,1276.0 180.7,1278.3 177.0,1276.0Z" fill="none" stroke="#ffffff" stroke-width="7" filter="url(#b1)"/></g>
<path d="M177.0,1276.0 C173.3,1273.7 177.2,1267.0 179.0,1259.0 C180.8,1251.0 185.3,1237.8 188.0,1228.0 C190.7,1218.2 194.2,1208.5 195.0,1200.0 C195.8,1191.5 192.2,1184.7 193.0,1177.0 C193.8,1169.3 197.0,1161.7 200.0,1154.0 C203.0,1146.3 209.2,1139.2 211.0,1131.0 C212.8,1122.8 210.5,1115.3 211.0,1105.0 C211.5,1094.7 211.8,1079.5 214.0,1069.0 C216.2,1058.5 221.0,1050.2 224.0,1042.0 C227.0,1033.8 230.7,1028.2 232.0,1020.0 C233.3,1011.8 230.7,1001.2 232.0,993.0 C233.3,984.8 236.2,978.3 240.0,971.0 C243.8,963.7 251.5,956.5 255.0,949.0 C258.5,941.5 259.7,933.5 261.0,926.0 C262.3,918.5 261.0,911.3 263.0,904.0 C265.0,896.7 268.7,888.2 273.0,882.0 C277.3,875.8 285.5,872.8 289.0,867.0 C292.5,861.2 292.8,853.7 294.0,847.0 C295.2,840.3 294.3,834.5 296.0,827.0 C297.7,819.5 301.3,807.8 304.0,802.0 C306.7,796.2 308.3,797.8 312.0,792.0 C315.7,786.2 323.3,777.3 326.0,767.0 C328.7,756.7 329.2,741.2 328.0,730.0 C326.8,718.8 321.8,708.2 319.0,700.0 C316.2,691.8 310.8,687.6 311.0,681.0 C311.2,674.4 320.0,660.5 320.0,660.5 C320.0,660.5 339.0,675.8 347.0,685.0 C355.0,694.2 363.2,706.0 368.0,716.0 C372.8,726.0 374.3,736.8 376.0,745.0 C377.7,753.2 378.2,757.2 378.0,765.0 C377.8,772.8 377.2,781.8 375.0,792.0 C372.8,802.2 368.7,814.7 365.0,826.0 C361.3,837.3 357.8,847.0 353.0,860.0 C348.2,873.0 341.8,887.8 336.0,904.0 C330.2,920.2 323.3,940.7 318.0,957.0 C312.7,973.3 308.2,987.2 304.0,1002.0 C299.8,1016.8 295.8,1029.7 293.0,1046.0 C290.2,1062.3 289.0,1082.7 287.0,1100.0 C285.0,1117.3 283.7,1132.5 281.0,1150.0 C278.3,1167.5 275.0,1190.3 271.0,1205.0 C267.0,1219.7 263.2,1229.2 257.0,1238.0 C250.8,1246.8 243.3,1252.2 234.0,1258.0 C224.7,1263.8 210.5,1270.0 201.0,1273.0 C191.5,1276.0 180.7,1278.3 177.0,1276.0Z" fill="#8032a8"/>
<g clip-path="url(#clipLP)"><path d="M177.0,1276.0 C177.0,1276.0 177.2,1267.0 179.0,1259.0 C180.8,1251.0 185.3,1237.8 188.0,1228.0 C190.7,1218.2 194.2,1208.5 195.0,1200.0 C195.8,1191.5 192.2,1184.7 193.0,1177.0 C193.8,1169.3 197.0,1161.7 200.0,1154.0 C203.0,1146.3 209.2,1139.2 211.0,1131.0 C212.8,1122.8 210.5,1115.3 211.0,1105.0 C211.5,1094.7 211.8,1079.5 214.0,1069.0 C216.2,1058.5 221.0,1050.2 224.0,1042.0 C227.0,1033.8 230.7,1028.2 232.0,1020.0 C233.3,1011.8 230.7,1001.2 232.0,993.0 C233.3,984.8 236.2,978.3 240.0,971.0 C243.8,963.7 251.5,956.5 255.0,949.0 C258.5,941.5 259.7,933.5 261.0,926.0 C262.3,918.5 261.0,911.3 263.0,904.0 C265.0,896.7 268.7,888.2 273.0,882.0 C277.3,875.8 285.5,872.8 289.0,867.0 C292.5,861.2 292.8,853.7 294.0,847.0 C295.2,840.3 294.3,834.5 296.0,827.0 C297.7,819.5 301.3,807.8 304.0,802.0 C306.7,796.2 308.3,797.8 312.0,792.0 C315.7,786.2 323.3,777.3 326.0,767.0 C328.7,756.7 329.2,741.2 328.0,730.0 C326.8,718.8 321.8,708.2 319.0,700.0 C316.2,691.8 311.0,681.0 311.0,681.0" fill="none" stroke="#a76ad0" stroke-width="28" filter="url(#b3p)"/>
<path d="M177.0,1276.0 C177.0,1276.0 177.2,1267.0 179.0,1259.0 C180.8,1251.0 185.3,1237.8 188.0,1228.0 C190.7,1218.2 194.2,1208.5 195.0,1200.0 C195.8,1191.5 192.2,1184.7 193.0,1177.0 C193.8,1169.3 197.0,1161.7 200.0,1154.0 C203.0,1146.3 209.2,1139.2 211.0,1131.0 C212.8,1122.8 210.5,1115.3 211.0,1105.0 C211.5,1094.7 211.8,1079.5 214.0,1069.0 C216.2,1058.5 221.0,1050.2 224.0,1042.0 C227.0,1033.8 230.7,1028.2 232.0,1020.0 C233.3,1011.8 230.7,1001.2 232.0,993.0 C233.3,984.8 236.2,978.3 240.0,971.0 C243.8,963.7 251.5,956.5 255.0,949.0 C258.5,941.5 259.7,933.5 261.0,926.0 C262.3,918.5 261.0,911.3 263.0,904.0 C265.0,896.7 268.7,888.2 273.0,882.0 C277.3,875.8 285.5,872.8 289.0,867.0 C292.5,861.2 292.8,853.7 294.0,847.0 C295.2,840.3 294.3,834.5 296.0,827.0 C297.7,819.5 301.3,807.8 304.0,802.0 C306.7,796.2 308.3,797.8 312.0,792.0 C315.7,786.2 323.3,777.3 326.0,767.0 C328.7,756.7 329.2,741.2 328.0,730.0 C326.8,718.8 321.8,708.2 319.0,700.0 C316.2,691.8 311.0,681.0 311.0,681.0" fill="none" stroke="#7328a0" stroke-width="9" filter="url(#b1)"/></g>
<path d="M177.0,1276.0 C173.3,1273.7 177.2,1267.0 179.0,1259.0 C180.8,1251.0 185.3,1237.8 188.0,1228.0 C190.7,1218.2 194.2,1208.5 195.0,1200.0 C195.8,1191.5 192.2,1184.7 193.0,1177.0 C193.8,1169.3 197.0,1161.7 200.0,1154.0 C203.0,1146.3 209.2,1139.2 211.0,1131.0 C212.8,1122.8 210.5,1115.3 211.0,1105.0 C211.5,1094.7 211.8,1079.5 214.0,1069.0 C216.2,1058.5 221.0,1050.2 224.0,1042.0 C227.0,1033.8 230.7,1028.2 232.0,1020.0 C233.3,1011.8 230.7,1001.2 232.0,993.0 C233.3,984.8 236.2,978.3 240.0,971.0 C243.8,963.7 251.5,956.5 255.0,949.0 C258.5,941.5 259.7,933.5 261.0,926.0 C262.3,918.5 261.0,911.3 263.0,904.0 C265.0,896.7 268.7,888.2 273.0,882.0 C277.3,875.8 285.5,872.8 289.0,867.0 C292.5,861.2 292.8,853.7 294.0,847.0 C295.2,840.3 294.3,834.5 296.0,827.0 C297.7,819.5 301.3,807.8 304.0,802.0 C306.7,796.2 308.3,797.8 312.0,792.0 C315.7,786.2 323.3,777.3 326.0,767.0 C328.7,756.7 329.2,741.2 328.0,730.0 C326.8,718.8 321.8,708.2 319.0,700.0 C316.2,691.8 310.8,687.6 311.0,681.0 C311.2,674.4 320.0,660.5 320.0,660.5 C320.0,660.5 339.0,675.8 347.0,685.0 C355.0,694.2 363.2,706.0 368.0,716.0 C372.8,726.0 374.3,736.8 376.0,745.0 C377.7,753.2 378.2,757.2 378.0,765.0 C377.8,772.8 377.2,781.8 375.0,792.0 C372.8,802.2 368.7,814.7 365.0,826.0 C361.3,837.3 357.8,847.0 353.0,860.0 C348.2,873.0 341.8,887.8 336.0,904.0 C330.2,920.2 323.3,940.7 318.0,957.0 C312.7,973.3 308.2,987.2 304.0,1002.0 C299.8,1016.8 295.8,1029.7 293.0,1046.0 C290.2,1062.3 289.0,1082.7 287.0,1100.0 C285.0,1117.3 283.7,1132.5 281.0,1150.0 C278.3,1167.5 275.0,1190.3 271.0,1205.0 C267.0,1219.7 263.2,1229.2 257.0,1238.0 C250.8,1246.8 243.3,1252.2 234.0,1258.0 C224.7,1263.8 210.5,1270.0 201.0,1273.0 C191.5,1276.0 180.7,1278.3 177.0,1276.0Z" fill="none" stroke="#5a2082" stroke-width="1.1"/>
<path d="M608.5,591.0 L624.0,583.5 L646.0,589.6 L729.0,536.0 C729.0,536.0 798.9,635.4 814.6,659.6 C830.3,683.8 822.4,674.1 823.0,681.0 C823.6,687.9 820.7,693.3 818.0,701.0 C815.3,708.7 809.2,718.3 807.0,727.0 C804.8,735.7 803.5,744.2 805.0,753.0 C806.5,761.8 811.3,770.7 816.0,780.0 C820.7,789.3 829.2,800.2 833.0,809.0 C836.8,817.8 837.3,824.7 839.0,833.0 C840.7,841.3 839.5,851.0 843.0,859.0 C846.5,867.0 855.5,872.5 860.0,881.0 C864.5,889.5 867.7,900.8 870.0,910.0 C872.3,919.2 871.3,926.8 874.0,936.0 C876.7,945.2 881.7,955.7 886.0,965.0 C890.3,974.3 897.3,982.8 900.0,992.0 C902.7,1001.2 900.3,1010.5 902.0,1020.0 C903.7,1029.5 907.0,1039.0 910.0,1049.0 C913.0,1059.0 917.8,1070.7 920.0,1080.0 C922.2,1089.3 922.0,1096.5 923.0,1105.0 C924.0,1113.5 923.3,1122.0 926.0,1131.0 C928.7,1140.0 936.3,1149.7 939.0,1159.0 C941.7,1168.3 941.7,1178.0 942.0,1187.0 C942.3,1196.0 939.7,1204.5 941.0,1213.0 C942.3,1221.5 947.5,1227.8 950.0,1238.0 C952.5,1248.2 954.0,1266.0 956.0,1274.0 C958.0,1282.0 960.2,1278.0 962.0,1286.0 C963.8,1294.0 966.7,1310.5 967.0,1322.0 C967.3,1333.5 965.8,1346.8 964.0,1355.0 C962.2,1363.2 960.3,1368.8 956.0,1371.0 C951.7,1373.2 948.5,1373.2 938.0,1368.0 C927.5,1362.8 907.0,1350.7 893.0,1340.0 C879.0,1329.3 863.8,1317.7 854.0,1304.0 C844.2,1290.3 839.8,1278.3 834.0,1258.0 C828.2,1237.7 824.0,1208.3 819.0,1182.0 C814.0,1155.7 808.8,1123.0 804.0,1100.0 C799.2,1077.0 796.0,1065.3 790.0,1044.0 C784.0,1022.7 775.7,996.0 768.0,972.0 C760.3,948.0 754.0,924.0 744.0,900.0 C734.0,876.0 717.2,844.7 708.0,828.0 C698.8,811.3 694.4,809.5 688.6,800.0 C682.8,790.5 678.5,779.1 673.4,771.0 C668.3,762.9 662.1,757.9 658.3,751.4 C654.5,744.9 653.2,740.0 650.7,731.7 C648.2,723.4 646.0,712.5 643.0,701.4 C640.0,690.3 636.3,677.6 632.5,665.0 C628.7,652.4 624.0,636.8 620.3,625.5 C616.5,614.2 612.0,602.8 610.0,597.0 C608.0,591.2 608.5,591.0 608.5,591.0Z" fill="url(#hl)"/>
<g clip-path="url(#clipRH)"><path d="M608.5,591.0 L624.0,583.5 L646.0,589.6 L729.0,536.0 C729.0,536.0 798.9,635.4 814.6,659.6 C830.3,683.8 822.4,674.1 823.0,681.0 C823.6,687.9 820.7,693.3 818.0,701.0 C815.3,708.7 809.2,718.3 807.0,727.0 C804.8,735.7 803.5,744.2 805.0,753.0 C806.5,761.8 811.3,770.7 816.0,780.0 C820.7,789.3 829.2,800.2 833.0,809.0 C836.8,817.8 837.3,824.7 839.0,833.0 C840.7,841.3 839.5,851.0 843.0,859.0 C846.5,867.0 855.5,872.5 860.0,881.0 C864.5,889.5 867.7,900.8 870.0,910.0 C872.3,919.2 871.3,926.8 874.0,936.0 C876.7,945.2 881.7,955.7 886.0,965.0 C890.3,974.3 897.3,982.8 900.0,992.0 C902.7,1001.2 900.3,1010.5 902.0,1020.0 C903.7,1029.5 907.0,1039.0 910.0,1049.0 C913.0,1059.0 917.8,1070.7 920.0,1080.0 C922.2,1089.3 922.0,1096.5 923.0,1105.0 C924.0,1113.5 923.3,1122.0 926.0,1131.0 C928.7,1140.0 936.3,1149.7 939.0,1159.0 C941.7,1168.3 941.7,1178.0 942.0,1187.0 C942.3,1196.0 939.7,1204.5 941.0,1213.0 C942.3,1221.5 947.5,1227.8 950.0,1238.0 C952.5,1248.2 954.0,1266.0 956.0,1274.0 C958.0,1282.0 960.2,1278.0 962.0,1286.0 C963.8,1294.0 966.7,1310.5 967.0,1322.0 C967.3,1333.5 965.8,1346.8 964.0,1355.0 C962.2,1363.2 960.3,1368.8 956.0,1371.0 C951.7,1373.2 948.5,1373.2 938.0,1368.0 C927.5,1362.8 907.0,1350.7 893.0,1340.0 C879.0,1329.3 863.8,1317.7 854.0,1304.0 C844.2,1290.3 839.8,1278.3 834.0,1258.0 C828.2,1237.7 824.0,1208.3 819.0,1182.0 C814.0,1155.7 808.8,1123.0 804.0,1100.0 C799.2,1077.0 796.0,1065.3 790.0,1044.0 C784.0,1022.7 775.7,996.0 768.0,972.0 C760.3,948.0 754.0,924.0 744.0,900.0 C734.0,876.0 717.2,844.7 708.0,828.0 C698.8,811.3 694.4,809.5 688.6,800.0 C682.8,790.5 678.5,779.1 673.4,771.0 C668.3,762.9 662.1,757.9 658.3,751.4 C654.5,744.9 653.2,740.0 650.7,731.7 C648.2,723.4 646.0,712.5 643.0,701.4 C640.0,690.3 636.3,677.6 632.5,665.0 C628.7,652.4 624.0,636.8 620.3,625.5 C616.5,614.2 612.0,602.8 610.0,597.0 C608.0,591.2 608.5,591.0 608.5,591.0Z" fill="none" stroke="#ffffff" stroke-width="12" filter="url(#b2)"/>
<path d="M608.5,591.0 L624.0,583.5 L646.0,589.6 L729.0,536.0 C729.0,536.0 798.9,635.4 814.6,659.6 C830.3,683.8 822.4,674.1 823.0,681.0 C823.6,687.9 820.7,693.3 818.0,701.0 C815.3,708.7 809.2,718.3 807.0,727.0 C804.8,735.7 803.5,744.2 805.0,753.0 C806.5,761.8 811.3,770.7 816.0,780.0 C820.7,789.3 829.2,800.2 833.0,809.0 C836.8,817.8 837.3,824.7 839.0,833.0 C840.7,841.3 839.5,851.0 843.0,859.0 C846.5,867.0 855.5,872.5 860.0,881.0 C864.5,889.5 867.7,900.8 870.0,910.0 C872.3,919.2 871.3,926.8 874.0,936.0 C876.7,945.2 881.7,955.7 886.0,965.0 C890.3,974.3 897.3,982.8 900.0,992.0 C902.7,1001.2 900.3,1010.5 902.0,1020.0 C903.7,1029.5 907.0,1039.0 910.0,1049.0 C913.0,1059.0 917.8,1070.7 920.0,1080.0 C922.2,1089.3 922.0,1096.5 923.0,1105.0 C924.0,1113.5 923.3,1122.0 926.0,1131.0 C928.7,1140.0 936.3,1149.7 939.0,1159.0 C941.7,1168.3 941.7,1178.0 942.0,1187.0 C942.3,1196.0 939.7,1204.5 941.0,1213.0 C942.3,1221.5 947.5,1227.8 950.0,1238.0 C952.5,1248.2 954.0,1266.0 956.0,1274.0 C958.0,1282.0 960.2,1278.0 962.0,1286.0 C963.8,1294.0 966.7,1310.5 967.0,1322.0 C967.3,1333.5 965.8,1346.8 964.0,1355.0 C962.2,1363.2 960.3,1368.8 956.0,1371.0 C951.7,1373.2 948.5,1373.2 938.0,1368.0 C927.5,1362.8 907.0,1350.7 893.0,1340.0 C879.0,1329.3 863.8,1317.7 854.0,1304.0 C844.2,1290.3 839.8,1278.3 834.0,1258.0 C828.2,1237.7 824.0,1208.3 819.0,1182.0 C814.0,1155.7 808.8,1123.0 804.0,1100.0 C799.2,1077.0 796.0,1065.3 790.0,1044.0 C784.0,1022.7 775.7,996.0 768.0,972.0 C760.3,948.0 754.0,924.0 744.0,900.0 C734.0,876.0 717.2,844.7 708.0,828.0 C698.8,811.3 694.4,809.5 688.6,800.0 C682.8,790.5 678.5,779.1 673.4,771.0 C668.3,762.9 662.1,757.9 658.3,751.4 C654.5,744.9 653.2,740.0 650.7,731.7 C648.2,723.4 646.0,712.5 643.0,701.4 C640.0,690.3 636.3,677.6 632.5,665.0 C628.7,652.4 624.0,636.8 620.3,625.5 C616.5,614.2 612.0,602.8 610.0,597.0 C608.0,591.2 608.5,591.0 608.5,591.0Z" fill="none" stroke="#cdcdcd" stroke-width="3.5" filter="url(#b1)"/></g>
<g clip-path="url(#clipRH)"><path d="M814.6,659.6 C814.6,659.6 822.4,674.1 823.0,681.0 C823.6,687.9 820.7,693.3 818.0,701.0 C815.3,708.7 809.2,718.3 807.0,727.0 C804.8,735.7 803.5,744.2 805.0,753.0 C806.5,761.8 811.3,770.7 816.0,780.0 C820.7,789.3 829.2,800.2 833.0,809.0 C836.8,817.8 837.3,824.7 839.0,833.0 C840.7,841.3 839.5,851.0 843.0,859.0 C846.5,867.0 855.5,872.5 860.0,881.0 C864.5,889.5 867.7,900.8 870.0,910.0 C872.3,919.2 871.3,926.8 874.0,936.0 C876.7,945.2 881.7,955.7 886.0,965.0 C890.3,974.3 897.3,982.8 900.0,992.0 C902.7,1001.2 900.3,1010.5 902.0,1020.0 C903.7,1029.5 907.0,1039.0 910.0,1049.0 C913.0,1059.0 917.8,1070.7 920.0,1080.0 C922.2,1089.3 922.0,1096.5 923.0,1105.0 C924.0,1113.5 923.3,1122.0 926.0,1131.0 C928.7,1140.0 936.3,1149.7 939.0,1159.0 C941.7,1168.3 941.7,1178.0 942.0,1187.0 C942.3,1196.0 939.7,1204.5 941.0,1213.0 C942.3,1221.5 947.5,1227.8 950.0,1238.0 C952.5,1248.2 960.0,1268.0 956.0,1274.0 C952.0,1280.0 935.3,1275.7 926.0,1274.0 C916.7,1272.3 907.7,1269.2 900.0,1264.0 C892.3,1258.8 885.5,1252.3 880.0,1243.0 C874.5,1233.7 870.8,1224.5 867.0,1208.0 C863.2,1191.5 859.8,1162.0 857.0,1144.0 C854.2,1126.0 854.0,1120.7 850.0,1100.0 C846.0,1079.3 838.7,1043.3 833.0,1020.0 C827.3,996.7 822.3,982.0 816.0,960.0 C809.7,938.0 802.2,910.0 795.0,888.0 C787.8,866.0 777.8,842.7 773.0,828.0 C768.2,813.3 768.5,808.2 766.0,800.0 C763.5,791.8 759.8,786.8 758.0,779.0 C756.2,771.2 754.2,762.5 755.0,753.0 C755.8,743.5 758.7,732.3 763.0,722.0 C767.3,711.7 775.3,699.0 781.0,691.0 C786.7,683.0 791.4,679.2 797.0,674.0 C802.6,668.8 814.6,659.6 814.6,659.6Z" fill="none" stroke="#ffffff" stroke-width="7" filter="url(#b1)"/></g>
<path d="M814.6,659.6 C814.6,659.6 822.4,674.1 823.0,681.0 C823.6,687.9 820.7,693.3 818.0,701.0 C815.3,708.7 809.2,718.3 807.0,727.0 C804.8,735.7 803.5,744.2 805.0,753.0 C806.5,761.8 811.3,770.7 816.0,780.0 C820.7,789.3 829.2,800.2 833.0,809.0 C836.8,817.8 837.3,824.7 839.0,833.0 C840.7,841.3 839.5,851.0 843.0,859.0 C846.5,867.0 855.5,872.5 860.0,881.0 C864.5,889.5 867.7,900.8 870.0,910.0 C872.3,919.2 871.3,926.8 874.0,936.0 C876.7,945.2 881.7,955.7 886.0,965.0 C890.3,974.3 897.3,982.8 900.0,992.0 C902.7,1001.2 900.3,1010.5 902.0,1020.0 C903.7,1029.5 907.0,1039.0 910.0,1049.0 C913.0,1059.0 917.8,1070.7 920.0,1080.0 C922.2,1089.3 922.0,1096.5 923.0,1105.0 C924.0,1113.5 923.3,1122.0 926.0,1131.0 C928.7,1140.0 936.3,1149.7 939.0,1159.0 C941.7,1168.3 941.7,1178.0 942.0,1187.0 C942.3,1196.0 939.7,1204.5 941.0,1213.0 C942.3,1221.5 947.5,1227.8 950.0,1238.0 C952.5,1248.2 960.0,1268.0 956.0,1274.0 C952.0,1280.0 935.3,1275.7 926.0,1274.0 C916.7,1272.3 907.7,1269.2 900.0,1264.0 C892.3,1258.8 885.5,1252.3 880.0,1243.0 C874.5,1233.7 870.8,1224.5 867.0,1208.0 C863.2,1191.5 859.8,1162.0 857.0,1144.0 C854.2,1126.0 854.0,1120.7 850.0,1100.0 C846.0,1079.3 838.7,1043.3 833.0,1020.0 C827.3,996.7 822.3,982.0 816.0,960.0 C809.7,938.0 802.2,910.0 795.0,888.0 C787.8,866.0 777.8,842.7 773.0,828.0 C768.2,813.3 768.5,808.2 766.0,800.0 C763.5,791.8 759.8,786.8 758.0,779.0 C756.2,771.2 754.2,762.5 755.0,753.0 C755.8,743.5 758.7,732.3 763.0,722.0 C767.3,711.7 775.3,699.0 781.0,691.0 C786.7,683.0 791.4,679.2 797.0,674.0 C802.6,668.8 814.6,659.6 814.6,659.6Z" fill="#8032a8"/>
<g clip-path="url(#clipRP)"><path d="M823.0,681.0 C823.0,681.0 820.7,693.3 818.0,701.0 C815.3,708.7 809.2,718.3 807.0,727.0 C804.8,735.7 803.5,744.2 805.0,753.0 C806.5,761.8 811.3,770.7 816.0,780.0 C820.7,789.3 829.2,800.2 833.0,809.0 C836.8,817.8 837.3,824.7 839.0,833.0 C840.7,841.3 839.5,851.0 843.0,859.0 C846.5,867.0 855.5,872.5 860.0,881.0 C864.5,889.5 867.7,900.8 870.0,910.0 C872.3,919.2 871.3,926.8 874.0,936.0 C876.7,945.2 881.7,955.7 886.0,965.0 C890.3,974.3 897.3,982.8 900.0,992.0 C902.7,1001.2 900.3,1010.5 902.0,1020.0 C903.7,1029.5 907.0,1039.0 910.0,1049.0 C913.0,1059.0 917.8,1070.7 920.0,1080.0 C922.2,1089.3 922.0,1096.5 923.0,1105.0 C924.0,1113.5 923.3,1122.0 926.0,1131.0 C928.7,1140.0 936.3,1149.7 939.0,1159.0 C941.7,1168.3 941.7,1178.0 942.0,1187.0 C942.3,1196.0 939.7,1204.5 941.0,1213.0 C942.3,1221.5 947.5,1227.8 950.0,1238.0 C952.5,1248.2 956.0,1274.0 956.0,1274.0" fill="none" stroke="#a76ad0" stroke-width="28" filter="url(#b3p)"/>
<path d="M823.0,681.0 C823.0,681.0 820.7,693.3 818.0,701.0 C815.3,708.7 809.2,718.3 807.0,727.0 C804.8,735.7 803.5,744.2 805.0,753.0 C806.5,761.8 811.3,770.7 816.0,780.0 C820.7,789.3 829.2,800.2 833.0,809.0 C836.8,817.8 837.3,824.7 839.0,833.0 C840.7,841.3 839.5,851.0 843.0,859.0 C846.5,867.0 855.5,872.5 860.0,881.0 C864.5,889.5 867.7,900.8 870.0,910.0 C872.3,919.2 871.3,926.8 874.0,936.0 C876.7,945.2 881.7,955.7 886.0,965.0 C890.3,974.3 897.3,982.8 900.0,992.0 C902.7,1001.2 900.3,1010.5 902.0,1020.0 C903.7,1029.5 907.0,1039.0 910.0,1049.0 C913.0,1059.0 917.8,1070.7 920.0,1080.0 C922.2,1089.3 922.0,1096.5 923.0,1105.0 C924.0,1113.5 923.3,1122.0 926.0,1131.0 C928.7,1140.0 936.3,1149.7 939.0,1159.0 C941.7,1168.3 941.7,1178.0 942.0,1187.0 C942.3,1196.0 939.7,1204.5 941.0,1213.0 C942.3,1221.5 947.5,1227.8 950.0,1238.0 C952.5,1248.2 956.0,1274.0 956.0,1274.0" fill="none" stroke="#7328a0" stroke-width="9" filter="url(#b1)"/></g>
<path d="M814.6,659.6 C814.6,659.6 822.4,674.1 823.0,681.0 C823.6,687.9 820.7,693.3 818.0,701.0 C815.3,708.7 809.2,718.3 807.0,727.0 C804.8,735.7 803.5,744.2 805.0,753.0 C806.5,761.8 811.3,770.7 816.0,780.0 C820.7,789.3 829.2,800.2 833.0,809.0 C836.8,817.8 837.3,824.7 839.0,833.0 C840.7,841.3 839.5,851.0 843.0,859.0 C846.5,867.0 855.5,872.5 860.0,881.0 C864.5,889.5 867.7,900.8 870.0,910.0 C872.3,919.2 871.3,926.8 874.0,936.0 C876.7,945.2 881.7,955.7 886.0,965.0 C890.3,974.3 897.3,982.8 900.0,992.0 C902.7,1001.2 900.3,1010.5 902.0,1020.0 C903.7,1029.5 907.0,1039.0 910.0,1049.0 C913.0,1059.0 917.8,1070.7 920.0,1080.0 C922.2,1089.3 922.0,1096.5 923.0,1105.0 C924.0,1113.5 923.3,1122.0 926.0,1131.0 C928.7,1140.0 936.3,1149.7 939.0,1159.0 C941.7,1168.3 941.7,1178.0 942.0,1187.0 C942.3,1196.0 939.7,1204.5 941.0,1213.0 C942.3,1221.5 947.5,1227.8 950.0,1238.0 C952.5,1248.2 960.0,1268.0 956.0,1274.0 C952.0,1280.0 935.3,1275.7 926.0,1274.0 C916.7,1272.3 907.7,1269.2 900.0,1264.0 C892.3,1258.8 885.5,1252.3 880.0,1243.0 C874.5,1233.7 870.8,1224.5 867.0,1208.0 C863.2,1191.5 859.8,1162.0 857.0,1144.0 C854.2,1126.0 854.0,1120.7 850.0,1100.0 C846.0,1079.3 838.7,1043.3 833.0,1020.0 C827.3,996.7 822.3,982.0 816.0,960.0 C809.7,938.0 802.2,910.0 795.0,888.0 C787.8,866.0 777.8,842.7 773.0,828.0 C768.2,813.3 768.5,808.2 766.0,800.0 C763.5,791.8 759.8,786.8 758.0,779.0 C756.2,771.2 754.2,762.5 755.0,753.0 C755.8,743.5 758.7,732.3 763.0,722.0 C767.3,711.7 775.3,699.0 781.0,691.0 C786.7,683.0 791.4,679.2 797.0,674.0 C802.6,668.8 814.6,659.6 814.6,659.6Z" fill="none" stroke="#5a2082" stroke-width="1.1"/>
<path d="M612,606 L626,599 L648,603 L731,550 L803,656" fill="none" stroke="#e0e0e0" stroke-width="1.6" filter="url(#b1)"/>
<path d="M328,662 L405,551 L484,600 L506,597 L519,601" fill="none" stroke="#e2e2e2" stroke-width="1.6" filter="url(#b1)"/>
<ellipse cx="330" cy="675" rx="7" ry="4.5" fill="#ffffff" opacity="0.75" filter="url(#b2)"/>
<ellipse cx="803" cy="674" rx="7" ry="4.5" fill="#ffffff" opacity="0.75" filter="url(#b2)"/>
<g transform="translate(399.1,725.6) rotate(-69)"><path d="M16.6,-1.8 A11.3,11.3 0 1,0 7.0,-1.8 M11.8,-12 V0.5" fill="none" stroke="#5b2a96" stroke-width="2.6"/><path d="M28.6,0.5 V-23 L46,-0.5 M65,-22.8 H46.2 V-0.2 H65.5" fill="none" stroke="#5b2a96" stroke-width="2.6" stroke-linejoin="miter"/><path d="M88.5,-21 A11,11 0 1,0 88.5,-1.5" fill="none" stroke="#5b2a96" stroke-width="2.6"/><path d="M93.8,-23 V-10.5 A10.5,10 0 0,0 114.8,-10.5 V-23" fill="none" stroke="#5b2a96" stroke-width="2.6"/><path d="M120.5,-21.5 H138 M129.2,-21.5 V0.8" fill="none" stroke="#5b2a96" stroke-width="2.6"/><path d="M61,-16 L145,-2.6" fill="none" stroke="#4a2080" stroke-width="1.7"/><path d="M61.5,-17 L50,-10 L56,-9.5 L48.5,-2.5 L59,-9.5 L53.5,-10.5 L62,-14.5Z" fill="#4a2080"/></g>
<path d="M92,282 L120,314 L525,314" stroke="#d9982a" stroke-width="2.0" fill="none"/><circle cx="87.6" cy="276.7" r="6.3" stroke="#d9982a" stroke-width="2.0" fill="none"/>
<path d="M565,290 L581,186 L942,186" stroke="#d9982a" stroke-width="2.0" fill="none"/><circle cx="949" cy="186" r="6.3" stroke="#d9982a" stroke-width="2.0" fill="none"/>
<path d="M788.6,553 L804,449 L1003,449" stroke="#d9982a" stroke-width="2.0" fill="none"/><circle cx="1009.5" cy="449.2" r="6.3" stroke="#d9982a" stroke-width="2.0" fill="none"/>
<path d="M78,830 L139,899 L259,899" stroke="#d9982a" stroke-width="2.0" fill="none"/><circle cx="73.3" cy="823.3" r="6.3" stroke="#d9982a" stroke-width="2.0" fill="none"/>
<rect x="88" y="165.5" width="143" height="3.6" fill="#9c9c9c"/>
<rect x="584" y="99.5" width="144" height="3.6" fill="#9c9c9c"/>
<rect x="808" y="338" width="81" height="3" fill="#9c9c9c"/>
<rect x="16" y="698.5" width="108" height="3" fill="#9c9c9c"/>
<path d="M83.5,62.8 L83.5,77.2 M89.7,66.4 L77.3,73.6 M89.7,73.6 L77.3,66.4" stroke="#df9c22" stroke-width="3.8"/>
<path d="M575.0,3.3 L575.0,17.7 M581.2,6.9 L568.8,14.1 M581.2,14.1 L568.8,6.9" stroke="#df9c22" stroke-width="3.8"/>
<path d="M801.5,276.3 L801.5,290.7 M807.7,279.9 L795.3,287.1 M807.7,287.1 L795.3,279.9" stroke="#df9c22" stroke-width="3.8"/>
<path d="M10.7,596.3 L10.7,610.7 M16.9,599.9 L4.5,607.1 M16.9,607.1 L4.5,599.9" stroke="#df9c22" stroke-width="3.8"/>
<text x="88.6" y="111.3" font-size="34.5" font-weight="bold" font-style="normal" fill="#df9c22" textLength="162.0" lengthAdjust="spacingAndGlyphs" stroke="#df9c22" stroke-width="1.3">ULTRA SHARP</text>
<text x="88.6" y="146.8" font-size="34.5" font-weight="bold" font-style="normal" fill="#df9c22" textLength="279.0" lengthAdjust="spacingAndGlyphs" stroke="#df9c22" stroke-width="1.3">STAINLESSSTEEL BLADE</text>
<text x="88.0" y="203.2" font-size="25.4" font-weight="normal" font-style="italic" fill="#151515" textLength="235.0" lengthAdjust="spacingAndGlyphs">RAZOR SHARP 3.5MM</text>
<text x="88.0" y="230.5" font-size="25.4" font-weight="normal" font-style="italic" fill="#151515" textLength="243.0" lengthAdjust="spacingAndGlyphs">STAINLESSSTEEL FOR</text>
<text x="88.0" y="257.6" font-size="25.4" font-weight="normal" font-style="italic" fill="#151515" textLength="252.0" lengthAdjust="spacingAndGlyphs">QUICK AND EASY CUTS</text>
<text x="583.4" y="48.7" font-size="34.5" font-weight="bold" font-style="normal" fill="#df9c22" textLength="305.0" lengthAdjust="spacingAndGlyphs" stroke="#df9c22" stroke-width="1.3">SAFETY GUARD PREVENTS</text>
<text x="583.4" y="83.9" font-size="34.5" font-weight="bold" font-style="normal" fill="#df9c22" textLength="178.0" lengthAdjust="spacingAndGlyphs" stroke="#df9c22" stroke-width="1.3">OVER-CUTTING</text>
<text x="583.0" y="131.3" font-size="25.4" font-weight="normal" font-style="italic" fill="#151515" textLength="180.0" lengthAdjust="spacingAndGlyphs">SAFETY STOP TO</text>
<text x="583.0" y="159.0" font-size="25.4" font-weight="normal" font-style="italic" fill="#151515" textLength="344.0" lengthAdjust="spacingAndGlyphs">PREVENTOVER-CUTTING NAILS</text>
<text x="808.4" y="323.0" font-size="34.5" font-weight="bold" font-style="normal" fill="#df9c22" textLength="155.0" lengthAdjust="spacingAndGlyphs" stroke="#df9c22" stroke-width="1.3">SAFETY LOCK</text>
<text x="808.0" y="371.5" font-size="25.4" font-weight="normal" font-style="italic" fill="#151515" textLength="180.0" lengthAdjust="spacingAndGlyphs">SAFETY STOP TO</text>
<text x="808.0" y="398.8" font-size="25.4" font-weight="normal" font-style="italic" fill="#151515" textLength="270.0" lengthAdjust="spacingAndGlyphs">PREVENTOVER-CUTTING</text>
<text x="808.0" y="426.5" font-size="25.4" font-weight="normal" font-style="italic" fill="#151515" textLength="65.0" lengthAdjust="spacingAndGlyphs">NAILS</text>
<text x="17.6" y="646.1" font-size="34.5" font-weight="bold" font-style="normal" fill="#df9c22" textLength="172.0" lengthAdjust="spacingAndGlyphs" stroke="#df9c22" stroke-width="1.3">WAVY RUBBER</text>
<text x="17.6" y="681.5" font-size="34.5" font-weight="bold" font-style="normal" fill="#df9c22" textLength="157.0" lengthAdjust="spacingAndGlyphs" stroke="#df9c22" stroke-width="1.3">GRIP HANDLE</text>
<text x="17.0" y="737.0" font-size="25.4" font-weight="normal" font-style="italic" fill="#151515" textLength="192.0" lengthAdjust="spacingAndGlyphs">ERGONOMICALLY</text>
<text x="17.0" y="764.5" font-size="25.4" font-weight="normal" font-style="italic" fill="#151515" textLength="285.0" lengthAdjust="spacingAndGlyphs">DESIGNEDCOMFORTABLE</text>
<text x="17.0" y="792.0" font-size="25.4" font-weight="normal" font-style="italic" fill="#151515" textLength="214.0" lengthAdjust="spacingAndGlyphs">NONSLIP HANDLES</text>
</svg>
</body></html>
